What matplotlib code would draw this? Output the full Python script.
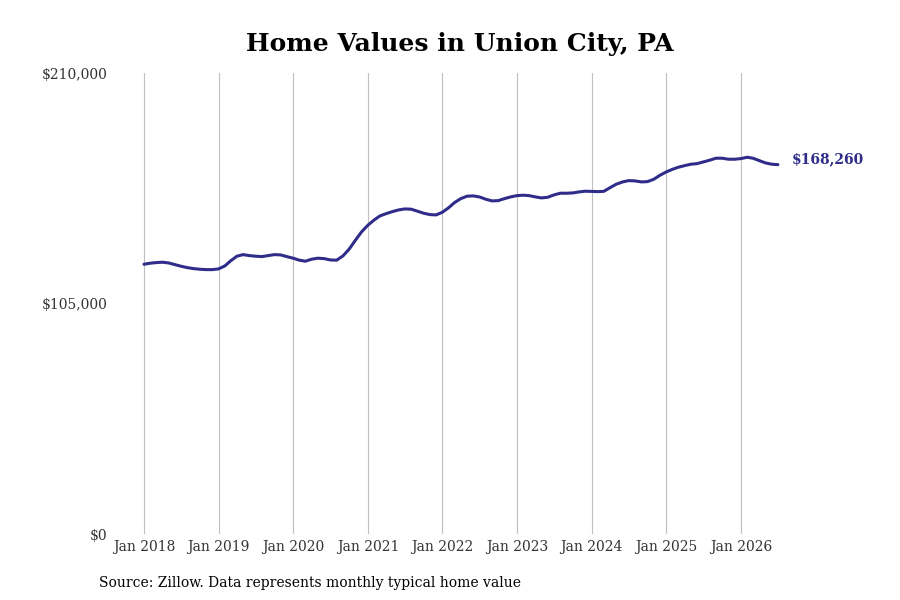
import numpy as np
import matplotlib
matplotlib.use("Agg")
import matplotlib.pyplot as plt
import matplotlib.dates as mdates

plt.rcParams['font.family'] = ['DejaVu Serif']

# monthly typical home value, Jan 2018 .. Jul 2026
values_2018 = [122900, 123360, 123630, 123810, 123490, 122720, 121990, 121350, 120900, 120620, 120440, 120440]
values_2019 = [120760, 122130, 124410, 126550, 127270, 126820, 126550, 126370, 126820, 127270, 127140, 126370]
values_2020 = [125640, 124730, 124270, 125180, 125640, 125450, 124860, 124730, 126680, 129730, 133830, 137620]
values_2021 = [140670, 143080, 144900, 145950, 146860, 147640, 148090, 147960, 147040, 146130, 145500, 145360]
values_2022 = [146590, 148680, 150960, 152790, 153880, 154020, 153560, 152510, 151740, 151870, 152790, 153560]
values_2023 = [154150, 154340, 154150, 153560, 153100, 153420, 154470, 155240, 155240, 155380, 155840, 156160]
values_2024 = [156070, 155970, 156100, 157800, 159350, 160390, 160990, 160850, 160390, 160530, 161620, 163440]
values_2025 = [164950, 166180, 167090, 167820, 168450, 168730, 169500, 170280, 171190, 171190, 170730, 170730]
values_2026 = [171010, 171640, 171190, 170100, 169050, 168450, 168260]

values = (values_2018 + values_2019 + values_2020 + values_2021 + values_2022
          + values_2023 + values_2024 + values_2025 + values_2026)
dates = np.arange(np.datetime64('2018-01'), np.datetime64('2018-01') + len(values)).astype('datetime64[D]')

tick_years = list(range(2018, 2027))
tick_labels = [f"Jan {y}" for y in tick_years]
y_ticks = [0, 105000, 210000]
y_labels = ["$0", "$105,000", "$210,000"]

title = "Home Values in Union City, PA"
source = "Source: Zillow. Data represents monthly typical home value"
line_color = '#2f2c8a'

fig = plt.figure(figsize=(9, 6), dpi=100)
ax = fig.add_axes([0.1333, 0.11, 0.7444, 0.7683])

x = mdates.date2num(dates)
ax.plot(x, values, color=line_color, linewidth=2.2, solid_capstyle='round')

x0 = mdates.date2num(np.datetime64('2018-01-01'))
ax.set_xlim(x0 - 117.5, x0 + 3162)
ax.set_ylim(0, 210000)

ax.set_xticks([mdates.date2num(np.datetime64(f"{y}-01-01")) for y in tick_years])
ax.set_xticklabels(tick_labels, fontsize=10, color='#333333')
ax.set_yticks(y_ticks)
ax.set_yticklabels(y_labels, fontsize=10, color='#333333')
ax.tick_params(axis='both', length=0)
ax.tick_params(axis='y', pad=9)
ax.tick_params(axis='x', pad=4)

ax.grid(axis='x', color='#c0c0c0', linewidth=0.8)
ax.grid(axis='y', visible=False)
for s in ax.spines.values():
    s.set_visible(False)

ax.annotate(f"${values[-1]:,}", xy=(x[-1], values[-1]), xytext=(10, 4),
            textcoords='offset points', fontsize=10, fontweight='bold',
            color=line_color, va='center', ha='left')

fig.text(0.511, 0.926, title, fontsize=18, fontweight='bold', ha='center', va='center')
fig.text(0.11, 0.029, source, fontsize=10, ha='left', va='center')

fig.savefig('out.png', dpi=100)
